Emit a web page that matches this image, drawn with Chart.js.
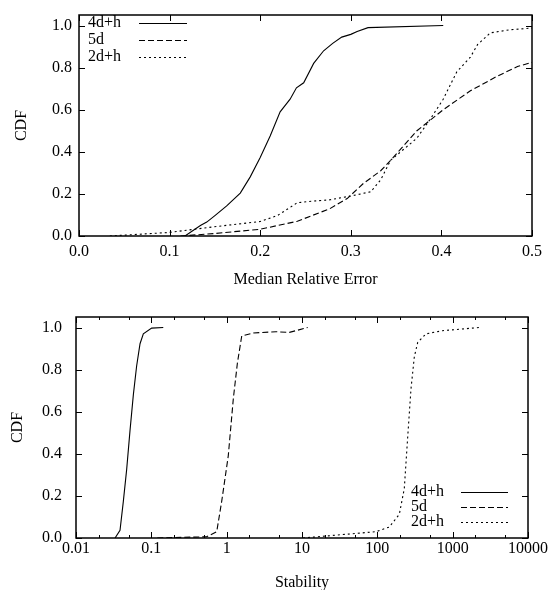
<!DOCTYPE html>
<html>
<head>
<meta charset="utf-8">
<script src="https://cdn.jsdelivr.net/npm/chart.js@4/dist/chart.umd.min.js"></script>
<style>
    html, body { margin: 0; padding: 0; background: #fff; overflow: hidden; }
    .box { position: absolute; left: 0; width: 552px; height: 295px; }
    #top-box { top: 0; }
    #bottom-box { top: 295px; }
</style>
</head>
<body>
<div class="box" id="top-box"><canvas id="errChart" width="552" height="295"></canvas></div>
<div class="box" id="bottom-box"><canvas id="stabChart" width="552" height="295"></canvas></div>
<script>
// series names
const seriesNames = ['4d+h', '5d', '2d+h'];

// tick values
const cdfTicks = [0, 0.2, 0.4, 0.6, 0.8, 1.0];
const errTicks = [0, 0.1, 0.2, 0.3, 0.4, 0.5];
const stabTicks = [0.01, 0.02, 0.05, 0.1, 0.2, 0.5, 1, 2, 5, 10, 20, 50, 100, 200, 500, 1000, 2000, 5000, 10000];
const stabLabels = ['0.01', '0.1', '1', '10', '100', '1000', '10000'];

// top: median relative error CDF
const err4dhX = [0.117, 0.134, 0.141, 0.150, 0.163, 0.178, 0.189, 0.200, 0.211, 0.222, 0.233, 0.240, 0.248, 0.259, 0.270, 0.280, 0.290, 0.300, 0.307, 0.319, 0.402];
const err4dhY = [0.0, 0.05, 0.066, 0.097, 0.143, 0.204, 0.281, 0.373, 0.475, 0.59, 0.65, 0.704, 0.728, 0.82, 0.88, 0.915, 0.945, 0.958, 0.972, 0.99, 1.0];
const err5dX = [0.112, 0.150, 0.200, 0.241, 0.277, 0.296, 0.314, 0.333, 0.344, 0.373, 0.402, 0.432, 0.462, 0.484, 0.500];
const err5dY = [0.0, 0.012, 0.032, 0.07, 0.13, 0.178, 0.25, 0.31, 0.36, 0.50, 0.60, 0.69, 0.76, 0.805, 0.825];
const err2dhX = [0.034, 0.100, 0.148, 0.200, 0.219, 0.241, 0.259, 0.277, 0.300, 0.322, 0.333, 0.344, 0.373, 0.388, 0.402, 0.417, 0.432, 0.440, 0.454, 0.476, 0.500];
const err2dhY = [0.0, 0.017, 0.043, 0.069, 0.097, 0.158, 0.166, 0.172, 0.19, 0.21, 0.267, 0.36, 0.465, 0.557, 0.65, 0.78, 0.85, 0.91, 0.965, 0.98, 0.988];

// bottom: stability CDF (log x)
const stab4dhX = [0.033, 0.0384, 0.0425, 0.0471, 0.0521, 0.0577, 0.0638, 0.0708, 0.0783, 0.101, 0.144];
const stab4dhY = [0.0, 0.037, 0.174, 0.327, 0.51, 0.68, 0.817, 0.923, 0.97, 0.997, 1.0];
const stab5dX = [0.12, 0.543, 0.738, 0.859, 1.05, 1.227, 1.387, 1.585, 2.26, 4.52, 6.8, 8.3, 11.9];
const stab5dY = [0.0, 0.006, 0.03, 0.174, 0.39, 0.664, 0.83, 0.96, 0.974, 0.98, 0.977, 0.985, 1.0];
const stab2dhX = [10.3, 96, 144, 196, 228, 253, 280, 310, 344, 443, 736, 2260];
const stab2dhY = [0.0, 0.03, 0.052, 0.113, 0.235, 0.48, 0.71, 0.862, 0.93, 0.97, 0.985, 1.0];

const FONT = '"Liberation Serif", "Times New Roman", serif';
const INK = '#000';
const DASHES = [[], [6, 3], [2, 3]];

function pairs(xs, ys) {
    return xs.map((x, i) => ({ x, y: ys[i] }));
}

function makeDataset(i, xs, ys) {
    return {
        label: seriesNames[i],
        data: pairs(xs, ys),
        borderColor: INK,
        borderWidth: 1.1,
        borderDash: DASHES[i],
        pointRadius: 0,
        fill: false,
        tension: 0,
    };
}

function fixedTicks(values) {
    return s => { s.ticks = values.map(v => ({ value: v })); };
}

function stabLabel(v) {
    const txt = String(+v.toPrecision(6));
    return stabLabels.includes(txt) ? txt : '';
}

// frame and inward ticks on all four sides, gnuplot style
const frameTicks = {
    id: 'frameTicks',
    afterDraw(chart) {
        const { ctx, chartArea: a, scales } = chart;
        ctx.save();
        ctx.strokeStyle = INK;
        ctx.lineWidth = 1;
        ctx.setLineDash([]);
        scales.x.ticks.forEach(t => {
            const px = Math.round(scales.x.getPixelForValue(t.value)) + 0.5;
            const minor = scales.x.type === 'logarithmic' && stabLabel(t.value) === '';
            const len = minor ? 3 : 6;
            ctx.beginPath();
            ctx.moveTo(px, a.bottom); ctx.lineTo(px, a.bottom - len);
            ctx.moveTo(px, a.top); ctx.lineTo(px, a.top + len);
            ctx.stroke();
        });
        scales.y.ticks.forEach(t => {
            const py = Math.round(scales.y.getPixelForValue(t.value)) + 0.5;
            ctx.beginPath();
            ctx.moveTo(a.left, py); ctx.lineTo(a.left + 6, py);
            ctx.moveTo(a.right, py); ctx.lineTo(a.right - 6, py);
            ctx.stroke();
        });
        ctx.lineWidth = 1.5;
        ctx.strokeRect(a.left, a.top, a.right - a.left, a.bottom - a.top);
        ctx.restore();
    },
};

// legend: text on the left, line sample on the right
const keyBox = {
    id: 'keyBox',
    afterDraw(chart, args, opts) {
        const { ctx } = chart;
        ctx.save();
        ctx.font = '16px ' + FONT;
        ctx.fillStyle = INK;
        ctx.textBaseline = 'middle';
        ctx.strokeStyle = INK;
        ctx.lineWidth = 1.1;
        chart.data.datasets.forEach((ds, i) => {
            const y = opts.y + i * opts.step;
            ctx.fillText(ds.label, opts.textX, y);
            ctx.setLineDash(ds.borderDash);
            ctx.beginPath();
            ctx.moveTo(opts.lineX0, y + 0.5);
            ctx.lineTo(opts.lineX1, y + 0.5);
            ctx.stroke();
        });
        ctx.restore();
    },
};

function yAxis(width, labelPad, titlePad) {
    return {
        type: 'linear',
        min: 0,
        max: 1.05,
        afterBuildTicks: fixedTicks(cdfTicks),
        afterFit: s => { s.width = width; },
        grid: { display: false, drawTicks: false },
        border: { display: false },
        ticks: {
            padding: labelPad,
            color: INK,
            font: { family: FONT, size: 16, lineHeight: 1 },
            callback: v => v.toFixed(1),
        },
        title: {
            display: true,
            text: 'CDF',
            color: INK,
            padding: { top: titlePad, bottom: 0 },
            font: { family: FONT, size: 16, lineHeight: 1 },
        },
    };
}

new Chart(document.getElementById('errChart'), {
    type: 'line',
    data: {
        datasets: [
            makeDataset(0, err4dhX, err4dhY),
            makeDataset(1, err5dX, err5dY),
            makeDataset(2, err2dhX, err2dhY),
        ],
    },
    options: {
        responsive: false,
        animation: false,
        layout: { padding: { left: 0, top: 7, right: 20, bottom: 0 } },
        scales: {
            x: {
                type: 'linear',
                min: 0,
                max: 0.5,
                afterBuildTicks: fixedTicks(errTicks),
                afterFit: s => { s.height = 59; },
                grid: { display: false, drawTicks: false },
                border: { display: false },
                ticks: {
                    padding: 8,
                    color: INK,
                    maxRotation: 0,
                    font: { family: FONT, size: 16, lineHeight: 1 },
                    callback: v => v.toFixed(1),
                },
                title: {
                    display: true,
                    text: 'Median Relative Error',
                    color: INK,
                    padding: { top: 0, bottom: 7 },
                    font: { family: FONT, size: 16, lineHeight: 1 },
                },
            },
            y: yAxis(79, 7, 14),
        },
        plugins: {
            legend: { display: false },
            tooltip: { enabled: false },
            keyBox: { textX: 88, lineX0: 139, lineX1: 187, y: 23, step: 17 },
        },
    },
    plugins: [frameTicks, keyBox],
});

new Chart(document.getElementById('stabChart'), {
    type: 'line',
    data: {
        datasets: [
            makeDataset(0, stab4dhX, stab4dhY),
            makeDataset(1, stab5dX, stab5dY),
            makeDataset(2, stab2dhX, stab2dhY),
        ],
    },
    options: {
        responsive: false,
        animation: false,
        layout: { padding: { left: 0, top: 14, right: 24, bottom: 0 } },
        scales: {
            x: {
                type: 'logarithmic',
                min: 0.01,
                max: 10000,
                afterBuildTicks: fixedTicks(stabTicks),
                afterFit: s => { s.height = 52; },
                grid: { display: false, drawTicks: false },
                border: { display: false },
                ticks: {
                    autoSkip: false,
                    padding: 3,
                    color: INK,
                    maxRotation: 0,
                    font: { family: FONT, size: 16, lineHeight: 1 },
                    callback: v => stabLabel(v),
                },
                title: {
                    display: true,
                    text: 'Stability',
                    color: INK,
                    padding: { top: 0, bottom: -1 },
                    font: { family: FONT, size: 16, lineHeight: 1 },
                },
            },
            y: yAxis(76, 14, 10),
        },
        plugins: {
            legend: { display: false },
            tooltip: { enabled: false },
            keyBox: { textX: 411, lineX0: 461, lineX1: 508, y: 197, step: 15 },
        },
    },
    plugins: [frameTicks, keyBox],
});
</script>
</body>
</html>
